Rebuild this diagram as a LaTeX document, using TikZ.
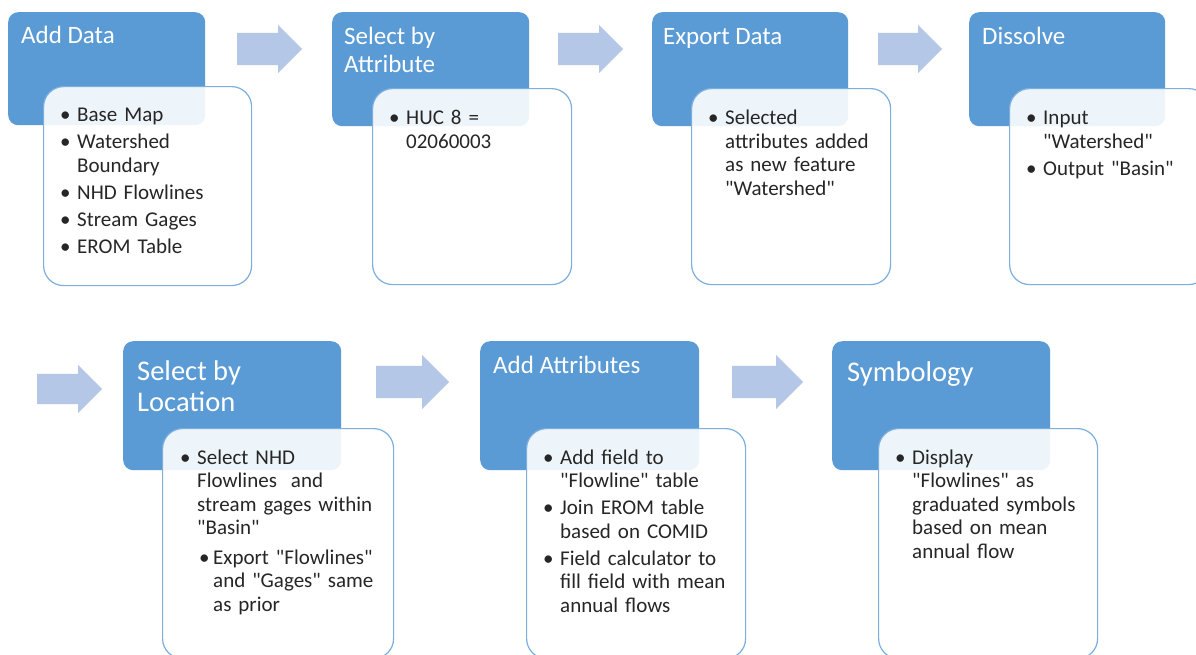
\documentclass[tikz,border=0pt]{standalone}
\usepackage{fontspec}
\setmainfont{Carlito}[Ligatures=TeXOff]
\usetikzlibrary{positioning,shapes.arrows}

\definecolor{stepblue}{HTML}{5B9BD5}
\definecolor{flowblue}{HTML}{B4C7E7}
\definecolor{bodytext}{HTML}{262626}

% bullet items with a hanging indent
\newcommand{\bul}[1]{\par\parskip=3.5pt\hangindent=17pt\hangafter=1\noindent\makebox[17pt][l]{\textbullet}\strut#1\par}
\newcommand{\subbul}[1]{\par\parskip=6pt\hangindent=33pt\hangafter=1\noindent\hspace*{19pt}\makebox[14pt][l]{\textbullet}\strut#1\par}

\begin{document}
\begin{tikzpicture}[x=1pt,y=-1pt,
  stepbox/.style 2 args={rectangle, rounded corners=10pt, fill=stepblue, inner sep=0pt,
    anchor=north west, minimum width=#1, minimum height=#2},
  notebox/.style 2 args={rectangle, rounded corners=20pt, draw=stepblue!80, line width=1.2pt,
    fill=white, fill opacity=0.9, inner sep=0pt, anchor=north west, minimum width=#1, minimum height=#2},
  steptitle/.style={anchor=north west, inner sep=0pt, align=left, text=white,
    font=\fontsize{25}{27.5}\selectfont},
  bigtitle/.style={steptitle, font=\fontsize{28.5}{31}\selectfont},
  notes/.style={anchor=north west, inner sep=0pt, text width=210pt, align=left, text=bodytext,
    font=\fontsize{21}{23.5}\selectfont},
  flow/.style={single arrow, fill=flowblue, draw=none, single arrow tip angle=90,
    inner xsep=0pt, anchor=tail}]

\fill[white] (0,0) rectangle (1196,654);
\useasboundingbox (0,0) rectangle (1196,654);

% top row
\node[stepbox={197pt}{113pt}] (add) at (8,12) {};
\node[notebox={208pt}{199pt}] (addn) at (43,86) {};
\node[steptitle] (addt) at (21,24.5) {\strut Add Data};
\node[notes] (addl) at (60,94.5) {\bul{Base Map}\bul{Watershed\newline Boundary}\bul{NHD Flowlines}\bul{Stream Gages}\bul{EROM Table}};

\node[stepbox={197pt}{114pt}] (attr) at (332,12) {};
\node[notebox={199pt}{196pt}] (attrn) at (372,88) {};
\node[steptitle] (attrt) at (344,25.5) {\strut Select by\\Attribute};
\node[notes] (attrl) at (389,97.5) {\bul{HUC 8 =\newline 02060003}};

\node[stepbox={196pt}{114pt}] (export) at (652,12) {};
\node[notebox={199pt}{196pt}] (exportn) at (691,88) {};
\node[steptitle] (exportt) at (663,25.5) {\strut Export Data};
\node[notes] (exportl) at (708,97.5) {\bul{Selected\newline attributes added\newline as new feature\newline "Watershed"}};

\node[stepbox={196pt}{114pt}] (dissolve) at (969,12) {};
\node[notebox={199pt}{196pt}] (dissolven) at (1009,88) {};
\node[steptitle] (dissolvet) at (982,25.5) {\strut Dissolve};
\node[notes] (dissolvel) at (1026,97.5) {\bul{Input\newline "Watershed"}\bul{Output "Basin"}};

% bottom row
\node[stepbox={218pt}{129pt}] (loc) at (123,341) {};
\node[notebox={231pt}{230pt}] (locn) at (162,428) {};
\node[bigtitle] (loct) at (137,358.3) {\strut Select by\\Location};
\node[notes] (locl) at (180,437) {\bul{Select NHD\newline Flowlines\ \ and\newline stream gages within\newline "Basin"}\subbul{Export "Flowlines"\newline and "Gages" same\newline as prior}};

\node[stepbox={219pt}{129pt}] (field) at (480,341) {};
\node[notebox={219pt}{230pt}] (fieldn) at (526,428) {};
\node[steptitle] (fieldt) at (493,353.7) {\strut Add Attributes};
\node[notes] (fieldl) at (543,437) {\bul{Add field to\newline "Flowline" table}\bul{Join EROM table\newline based on COMID}\bul{Field calculator to\newline fill field with mean\newline annual flows}};

\node[stepbox={218pt}{129pt}] (sym) at (832,341) {};
\node[notebox={219pt}{230pt}] (symn) at (878,428) {};
\node[bigtitle] (symt) at (847,359.3) {\strut Symbology};
\node[notes] (syml) at (895,437) {\bul{Display\newline "Flowlines" as\newline graduated symbols\newline based on mean\newline annual flow}};

% arrows between the steps
\node[flow, inner ysep=16pt, single arrow head extend=8pt, minimum height=65pt] (f1) at (237,49) {};
\node[flow, inner ysep=16pt, single arrow head extend=8pt, minimum height=65pt] (f2) at (558,49) {};
\node[flow, inner ysep=16pt, single arrow head extend=8pt, minimum height=64pt] (f3) at (878,49) {};
\node[flow, inner ysep=15pt, single arrow head extend=9pt, minimum height=65pt] (f4) at (37,389) {};
\node[flow, inner ysep=16pt, single arrow head extend=11pt, minimum height=73pt] (f5) at (376,382) {};
\node[flow, inner ysep=16pt, single arrow head extend=11pt, minimum height=71pt] (f6) at (732,382) {};
\end{tikzpicture}
\end{document}
